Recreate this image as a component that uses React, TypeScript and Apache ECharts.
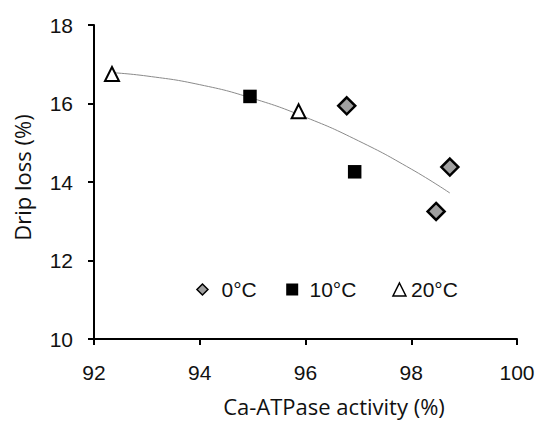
import React, { useEffect, useRef } from "react";
import * as echarts from "echarts";

const xTicks = [92, 94, 96, 98, 100];
const yTicks = [10, 12, 14, 16, 18];
const seriesNames = ["0°C", "10°C", "20°C"];
const zeroC: number[][] = [
  [96.78, 15.94],
  [98.73, 14.38],
  [98.47, 13.25],
];
const tenC: number[][] = [
  [94.95, 16.18],
  [96.93, 14.26],
];
const twentyC: number[][] = [
  [92.34, 16.75],
  [95.87, 15.8],
];
// trend curve, points
const trend: number[][] = [
  [92.3, 16.79],
  [93, 16.7],
  [94, 16.48],
  [95, 16.13],
  [96, 15.65],
  [97, 15.05],
  [98, 14.33],
  [98.73, 13.72],
];

const tickFont = "'Liberation Sans', Arial, sans-serif";
const titleFont = "'Open Sans', 'Noto Sans', sans-serif";

export default function App() {
  const ref = useRef<HTMLDivElement>(null);
  useEffect(() => {
    if (!ref.current) return;
    const chart = echarts.init(ref.current, null, { renderer: "svg" });
    const legendBase = {
      orient: "horizontal" as const,
      top: 274,
      selectedMode: false,
    };
    const legendText = { fontFamily: tickFont, fontSize: 21, color: "#111" };
    chart.setOption({
      animation: false,
      backgroundColor: "#fff",
      grid: { left: 94, right: 21, top: 25, bottom: 79, containLabel: false },
      xAxis: {
        type: "value",
        min: xTicks[0],
        max: xTicks[xTicks.length - 1],
        interval: 2,
        name: "Ca-ATPase activity (%)",
        nameLocation: "middle",
        nameGap: 56,
        nameTextStyle: {
          fontFamily: titleFont,
          fontSize: 22,
          color: "#111",
          padding: [0, 0, 0, 57],
        },
        axisLine: { lineStyle: { color: "#000", width: 2 } },
        axisTick: { length: 6, lineStyle: { color: "#000", width: 2 } },
        axisLabel: { fontFamily: tickFont, fontSize: 21, color: "#111", margin: 23 },
        splitLine: { show: false },
      },
      yAxis: {
        type: "value",
        min: yTicks[0],
        max: yTicks[yTicks.length - 1],
        interval: 2,
        name: "Drip loss (%)",
        nameLocation: "middle",
        nameGap: 61,
        nameRotate: 90,
        nameTextStyle: {
          fontFamily: titleFont,
          fontSize: 22,
          color: "#111",
          padding: [0, 0, 0, 9],
        },
        axisLine: { show: true, lineStyle: { color: "#000", width: 2 } },
        axisTick: { show: true, length: 6, lineStyle: { color: "#000", width: 2 } },
        axisLabel: { fontFamily: tickFont, fontSize: 21, color: "#111", margin: 21 },
        splitLine: { show: false },
      },
      legend: [
        {
          ...legendBase,
          left: 191.2,
          data: [seriesNames[0]],
          itemWidth: 11,
          itemHeight: 11,
          itemStyle: { borderWidth: 1.5, borderColor: "#000" },
          textStyle: { ...legendText, padding: [0, 0, 0, 8.5] },
        },
        {
          ...legendBase,
          left: 281.2,
          data: [seriesNames[1]],
          itemWidth: 12,
          itemHeight: 12,
          itemStyle: { borderWidth: 0 },
          textStyle: { ...legendText, padding: [0, 0, 0, 6.3] },
        },
        {
          ...legendBase,
          left: 387.2,
          data: [seriesNames[2]],
          itemWidth: 13,
          itemHeight: 13,
          itemStyle: { borderWidth: 1.5, borderColor: "#000" },
          textStyle: { ...legendText },
        },
      ],
      series: [
        {
          name: "trend",
          type: "line",
          data: trend,
          smooth: true,
          symbol: "none",
          lineStyle: { color: "#8a8a8a", width: 1 },
          z: 1,
        },
        {
          name: seriesNames[0],
          type: "scatter",
          data: zeroC,
          symbol: "diamond",
          symbolSize: 17,
          itemStyle: { color: "#a0a0a0", borderColor: "#000", borderWidth: 2.5, opacity: 1 },
          z: 3,
        },
        {
          name: seriesNames[1],
          type: "scatter",
          data: tenC,
          symbol: "rect",
          symbolSize: 13.5,
          itemStyle: { color: "#000", opacity: 1 },
          z: 3,
        },
        {
          name: seriesNames[2],
          type: "scatter",
          data: twentyC,
          symbol: "triangle",
          symbolSize: 14,
          itemStyle: { color: "#fff", borderColor: "#000", borderWidth: 2, opacity: 1 },
          z: 3,
        },
      ],
    });
    return () => chart.dispose();
  }, []);
  return (
    <div
      ref={ref}
      style={{ position: "absolute", left: 0, top: 0, width: 538, height: 422 }}
    />
  );
}
